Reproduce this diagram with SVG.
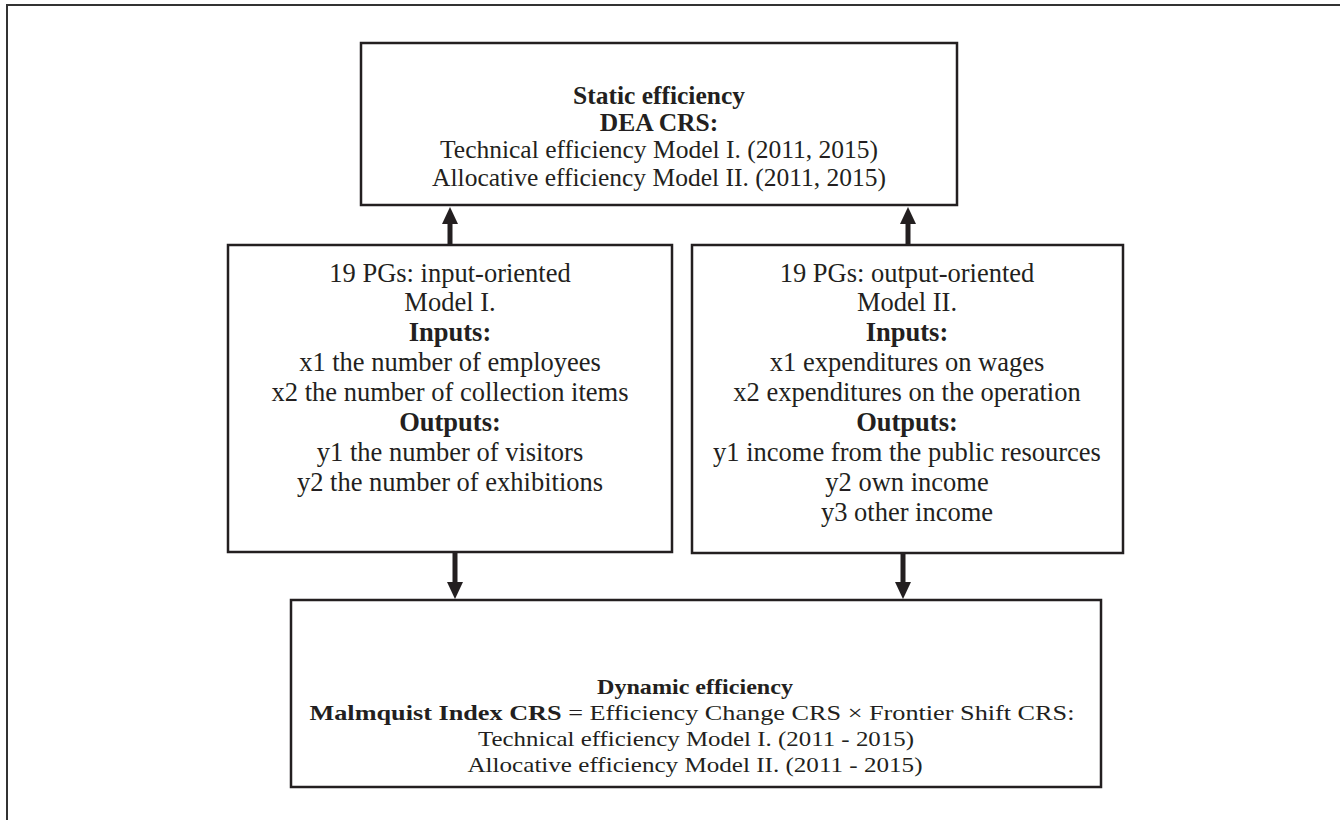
<svg xmlns="http://www.w3.org/2000/svg" width="1340" height="820" viewBox="0 0 1340 820">
  <defs>
    <style>
      .box { fill: #ffffff; stroke: #231f20; stroke-width: 2.5; }
      .t { font-family: "Liberation Serif", "Times New Roman", serif; font-size: 25.5px; fill: #231f20; text-anchor: middle; }
      .m { font-size: 26.5px; }
      .d { font-size: 22px; }
      .b { font-weight: bold; }
      .frame { fill: none; stroke: #333333; stroke-width: 2; }
      .conn { stroke: #231f20; stroke-width: 5; fill: none; }
      .head { fill: #231f20; }
    </style>
  </defs>
  <rect width="1340" height="820" fill="#ffffff"/>
  <path class="frame" d="M7,820 V5 H1340"/>

  <g id="static">
    <rect class="box" x="361" y="43" width="596" height="162"/>
    <text class="t b" x="659" y="104">Static efficiency</text>
    <text class="t b" x="659" y="131">DEA CRS:</text>
    <text class="t" x="659" y="158">Technical efficiency Model I. (2011, 2015)</text>
    <text class="t" x="659" y="186">Allocative efficiency Model II. (2011, 2015)</text>
  </g>

  <g id="model1">
    <rect class="box" x="228" y="245" width="444" height="307"/>
    <text class="t m" x="450" y="282">19 PGs: input-oriented</text>
    <text class="t m" x="450" y="311">Model I.</text>
    <text class="t m b" x="450" y="341">Inputs:</text>
    <text class="t m" x="450" y="371">x1 the number of employees</text>
    <text class="t m" x="450" y="401">x2 the number of collection items</text>
    <text class="t m b" x="450" y="431">Outputs:</text>
    <text class="t m" x="450" y="461">y1 the number of visitors</text>
    <text class="t m" x="450" y="491">y2 the number of exhibitions</text>
  </g>

  <g id="model2">
    <rect class="box" x="692" y="245" width="431" height="308"/>
    <text class="t m" x="907" y="282">19 PGs: output-oriented</text>
    <text class="t m" x="907" y="311">Model II.</text>
    <text class="t m b" x="907" y="341">Inputs:</text>
    <text class="t m" x="907" y="371">x1 expenditures on wages</text>
    <text class="t m" x="907" y="401">x2 expenditures on the operation</text>
    <text class="t m b" x="907" y="431">Outputs:</text>
    <text class="t m" x="907" y="461">y1 income from the public resources</text>
    <text class="t m" x="907" y="491">y2 own income</text>
    <text class="t m" x="907" y="521">y3 other income</text>
  </g>

  <g id="dynamic">
    <rect class="box" x="291" y="600" width="810" height="187"/>
    <text class="t d b" x="695" y="694" textLength="196" lengthAdjust="spacingAndGlyphs">Dynamic efficiency</text>
    <text class="t d" x="692" y="720" textLength="765" lengthAdjust="spacingAndGlyphs"><tspan class="b">Malmquist Index CRS</tspan> = Efficiency Change CRS × Frontier Shift CRS:</text>
    <text class="t d" x="696" y="746" textLength="436" lengthAdjust="spacingAndGlyphs">Technical efficiency Model I. (2011 - 2015)</text>
    <text class="t d" x="695" y="772" textLength="455" lengthAdjust="spacingAndGlyphs">Allocative efficiency Model II. (2011 - 2015)</text>
  </g>

  <g id="connectors">
    <line class="conn" x1="450" y1="245" x2="450" y2="222"/>
    <polygon class="head" points="450,207 442,224 458,224"/>
    <line class="conn" x1="908" y1="245" x2="908" y2="222"/>
    <polygon class="head" points="908,207 900,224 916,224"/>
    <line class="conn" x1="455" y1="552" x2="455" y2="584"/>
    <polygon class="head" points="455,599 447,582 463,582"/>
    <line class="conn" x1="903" y1="553" x2="903" y2="584"/>
    <polygon class="head" points="903,599 895,582 911,582"/>
  </g>
</svg>
